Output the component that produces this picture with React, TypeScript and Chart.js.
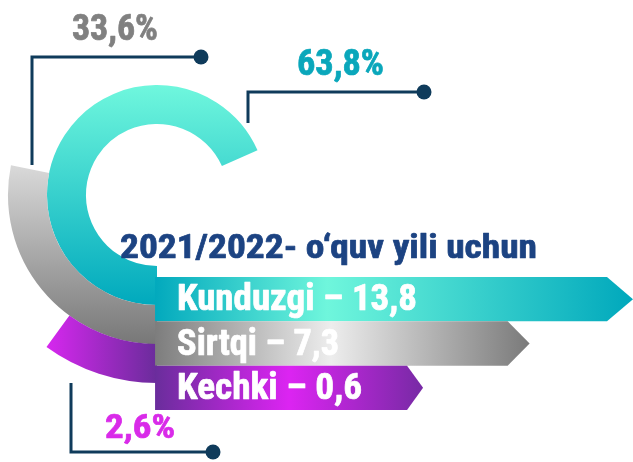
import React, { useEffect, useRef } from 'react';
import { Chart, registerables } from 'chart.js';

Chart.register(...registerables);

// ---- data ----
const categories = ['Kunduzgi', 'Sirtqi', 'Kechki'];
const studentCounts = [13.8, 7.3, 0.6];
const countLabels = ['13,8', '7,3', '0,6'];
const shares = [63.8, 33.6, 2.6];
const shareLabels = ['63,8%', '33,6%', '2,6%'];
const titleText = '2021/2022- o\u2018quv yili uchun';

// ---- styles ----
const FONT = '"Roboto Condensed", Roboto, "DejaVu Sans", sans-serif';
const NAVY = '#0f3b5b';
const BAR_STOPS: [number, string][][] = [
  [[0, '#02a9bd'], [0.36, '#6ff6dc'], [1, '#00a8bc']],
  [[0, '#7d7d7d'], [0.47, '#ededed'], [1, '#7a7a7a']],
  [[0, '#6a2d9c'], [0.5, '#dc24f2'], [1, '#772aa5']],
];
const HEADS = [26, 22, 16];
const LABEL_WIDTHS = [240, 162, 185];
const ARC_SWEEP = [246, 101.5, 36]; // Kunduzgi, Sirtqi, Kechki rings
const SHARE_COLORS = ['#0aa7bb', '#808080', '#d92ae9'];

function fitText(ctx: CanvasRenderingContext2D, text: string, x: number, baseline: number, width: number, font: string, color: string) {
  ctx.save();
  ctx.font = font;
  const w = ctx.measureText(text).width || 1;
  ctx.translate(x, baseline);
  ctx.scale(width / w, 1);
  ctx.fillStyle = color;
  ctx.strokeStyle = color;
  ctx.lineWidth = 0.7;
  ctx.lineJoin = 'round';
  ctx.textAlign = 'left';
  ctx.textBaseline = 'alphabetic';
  ctx.fillText(text, 0, 0);
  ctx.strokeText(text, 0, 0);
  ctx.restore();
}

function callout(ctx: CanvasRenderingContext2D, pts: number[][]) {
  ctx.save();
  ctx.strokeStyle = NAVY;
  ctx.lineWidth = 3;
  ctx.lineJoin = 'miter';
  ctx.beginPath();
  ctx.moveTo(pts[0][0], pts[0][1]);
  for (let i = 1; i < pts.length; i++) ctx.lineTo(pts[i][0], pts[i][1]);
  ctx.stroke();
  const last = pts[pts.length - 1];
  ctx.fillStyle = NAVY;
  ctx.beginPath();
  ctx.arc(last[0], last[1], 7.5, 0, Math.PI * 2);
  ctx.fill();
  ctx.restore();
}

export default function App() {
  const ringRef = useRef<HTMLCanvasElement>(null);
  const barRef = useRef<HTMLCanvasElement>(null);

  useEffect(() => {
    const ringCanvas = ringRef.current!;
    const barCanvas = barRef.current!;

    const ringGrad = (i: number) => (c: any) => {
      const ctx = c.chart.ctx as CanvasRenderingContext2D;
      let g: CanvasGradient;
      if (i === 0) {
        g = ctx.createLinearGradient(0, 85, 0, 305);
        g.addColorStop(0, '#6ff7dd');
        g.addColorStop(1, '#00a9bd');
      } else if (i === 1) {
        g = ctx.createLinearGradient(0, 160, 0, 345);
        g.addColorStop(0, '#dcdcdc');
        g.addColorStop(1, '#777777');
      } else {
        g = ctx.createLinearGradient(45, 0, 157, 0);
        g.addColorStop(0, '#d827f0');
        g.addColorStop(1, '#6a2c9b');
      }
      return g;
    };

    // outer ring first: Kechki, Sirtqi, Kunduzgi
    const order = [2, 1, 0];
    const ringChart = new Chart(ringCanvas, {
      type: 'doughnut',
      data: {
        labels: ['share'],
        datasets: [
          ...order.map((i) => ({
            label: categories[i],
            data: [shares[i]],
            backgroundColor: ringGrad(i),
            borderWidth: 0,
            rotation: 180,
            circumference: ARC_SWEEP[i],
            weight: 1,
          })),
          {
            label: 'frame',
            data: [1],
            backgroundColor: 'rgba(0,0,0,0)',
            borderWidth: 0,
            rotation: 180,
            circumference: 360,
            weight: 0,
          },
        ],
      } as any,
      options: {
        responsive: false,
        animation: false,
        radius: 188,
        cutout: '37.8%',
        layout: { padding: 0 },
        plugins: { legend: { display: false }, tooltip: { enabled: false } },
      } as any,
    });

    const arrowPlugin = {
      id: 'arrows',
      afterDatasetsDraw(chart: any) {
        const ctx = chart.ctx as CanvasRenderingContext2D;
        const meta = chart.getDatasetMeta(0);
        meta.data.forEach((el: any, i: number) => {
          const { x, y, base, height } = el.getProps(['x', 'y', 'base', 'height'], true);
          const top = y - height / 2;
          const bottom = y + height / 2;
          const head = HEADS[i];
          const g = ctx.createLinearGradient(base, 0, x, 0);
          BAR_STOPS[i].forEach(([o, c]) => g.addColorStop(o, c));
          ctx.save();
          ctx.fillStyle = g;
          ctx.beginPath();
          ctx.moveTo(base, top);
          ctx.lineTo(x - head, top);
          ctx.lineTo(x, y);
          ctx.lineTo(x - head, bottom);
          ctx.lineTo(base, bottom);
          ctx.closePath();
          ctx.fill();
          ctx.restore();
          fitText(ctx, `${categories[i]} \u2013 ${countLabels[i]}`, base + 22, y + 11, LABEL_WIDTHS[i], `bold 36px ${FONT}`, '#ffffff');
        });
      },
      afterDraw(chart: any) {
        const ctx = chart.ctx as CanvasRenderingContext2D;
        fitText(ctx, titleText, 120, 258, 417, `bold 33px ${FONT}`, '#1c4382');
        callout(ctx, [[32, 165], [32, 57], [201, 57]]);
        callout(ctx, [[248, 123], [248, 92], [424, 92]]);
        callout(ctx, [[71, 383], [71, 452], [213, 452]]);
        fitText(ctx, shareLabels[1], 72, 40, 86, `bold 36px ${FONT}`, SHARE_COLORS[1]);
        fitText(ctx, shareLabels[0], 297, 75, 87, `bold 36px ${FONT}`, SHARE_COLORS[0]);
        fitText(ctx, shareLabels[2], 105, 438, 70, `bold 34px ${FONT}`, SHARE_COLORS[2]);
      },
    };

    const barChart = new Chart(barCanvas, {
      type: 'bar',
      data: {
        labels: categories,
        datasets: [
          {
            data: studentCounts,
            base: -16.25,
            backgroundColor: 'rgba(0,0,0,0)',
            borderWidth: 0,
            barPercentage: 1,
            categoryPercentage: 1,
          },
        ],
      } as any,
      options: {
        indexAxis: 'y',
        responsive: false,
        animation: false,
        layout: { padding: { top: 277, bottom: 52, left: 0, right: 0 } },
        scales: {
          x: { display: false, min: -26, max: 13.8 },
          y: { display: false },
        },
        plugins: { legend: { display: false }, tooltip: { enabled: false } },
      } as any,
      plugins: [arrowPlugin],
    });

    return () => {
      ringChart.destroy();
      barChart.destroy();
    };
  }, []);

  return (
    <div style={{ position: 'fixed', left: 0, top: 0, width: 633, height: 462, background: '#ffffff' }}>
      <canvas ref={ringRef} width={314} height={390} style={{ position: 'absolute', left: 0, top: 0 }} />
      <canvas ref={barRef} width={633} height={462} style={{ position: 'absolute', left: 0, top: 0 }} />
    </div>
  );
}
